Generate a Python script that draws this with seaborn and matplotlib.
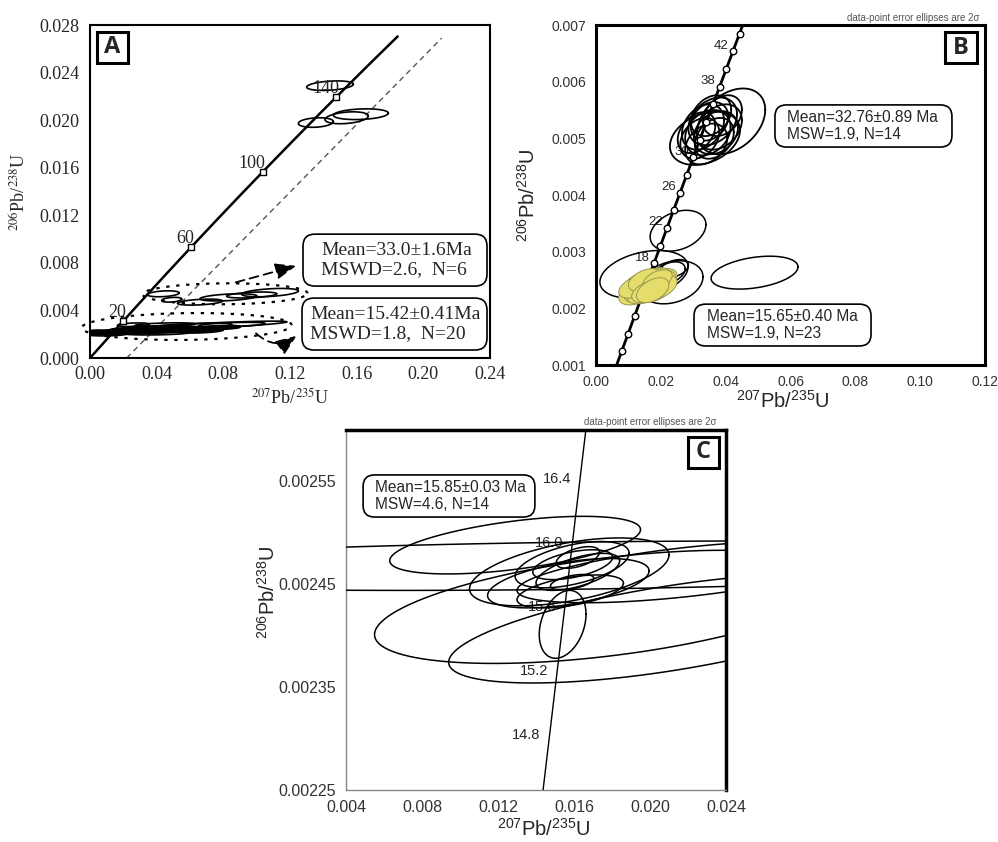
import numpy as np
import pandas as pd
from matplotlib import pyplot as plt
from matplotlib.patches import FancyBboxPatch
from matplotlib.ticker import MultipleLocator, FixedLocator, FormatStrFormatter
import seaborn as sns

# decay constants (1/yr), used for the concordia curve
LAMBDA_238 = 1.55125e-10
LAMBDA_235 = 9.8485e-10

# ---------------- panel A data ----------------
a_marker_ages = [20, 60, 100, 140]
a_curve_ages = np.linspace(0, 172, 200)
a_ref_x = [0.022, 0.211]
a_ref_y = [0.0, 0.0269]

# ellipses near 140 Ma
a_top_x = [0.144, 0.1355, 0.154, 0.1625]
a_top_y = [0.0229, 0.0198, 0.0202, 0.0205]
a_top_sx = [0.014, 0.0105, 0.013, 0.0165]
a_top_sy = [0.0004, 0.0004, 0.0005, 0.00045]
a_top_rho = [0.3, 0.2, 0.3, 0.2]

# 33.0 Ma group (N=6)
a_mid_x = [0.044, 0.049, 0.066, 0.083, 0.097, 0.108]
a_mid_y = [0.0054, 0.0049, 0.0047, 0.0051, 0.0053, 0.0055]
a_mid_sx = [0.0095, 0.006, 0.0135, 0.017, 0.015, 0.017]
a_mid_sy = [0.00025, 0.0002, 0.00025, 0.0003, 0.00025, 0.00035]
a_mid_rho = [0.3, 0.3, 0.4, 0.4, 0.4, 0.4]

# 15.42 Ma group (N=20)
a_low_x = [0.004, 0.015, 0.025, 0.035, 0.045, 0.055, 0.030, 0.050, 0.065,
           0.026, 0.066, 0.059, 0.010, 0.040, 0.070, 0.020, 0.078, 0.045, 0.002, 0.085]
a_low_y = [0.00215, 0.0022, 0.00228, 0.0023, 0.00235, 0.0024, 0.0025, 0.0025, 0.0023,
           0.0028, 0.0027, 0.00265, 0.0020, 0.0021, 0.0025, 0.0024, 0.0026, 0.0028, 0.0022, 0.0028]
a_low_sx = [0.008, 0.010, 0.012, 0.014, 0.016, 0.018, 0.010, 0.012, 0.015,
            0.0095, 0.052, 0.026, 0.012, 0.020, 0.020, 0.008, 0.012, 0.018, 0.006, 0.020]
a_low_sy = [0.0002, 0.00022, 0.00025, 0.00025, 0.00025, 0.00025, 0.0002, 0.0002, 0.0002,
            0.00015, 0.0004, 0.00028, 0.00014, 0.00016, 0.00018, 0.00014, 0.00014, 0.00016, 0.00012, 0.0002]
a_low_rho = [0.3, 0.3, 0.3, 0.3, 0.3, 0.3, 0.3, 0.3, 0.3,
             0.3, 0.85, 0.6, 0.2, 0.3, 0.5, 0.3, 0.4, 0.4, 0.2, 0.5]
a_low_filled = [1, 1, 1, 1, 1, 1, 1, 1, 1, 0, 0, 0, 0, 0, 0, 0, 0, 0, 0, 0]

# dotted group outlines
a_group_x = [0.081, 0.058]
a_group_y = [0.0054, 0.00265]
a_group_sx = [0.0495, 0.063]
a_group_sy = [0.00088, 0.00113]
a_group_rho = [0.05, 0.1]

a_text_old = "Mean=33.0\u00b11.6Ma\nMSWD=2.6,  N=6"
a_text_young = "Mean=15.42\u00b10.41Ma\nMSWD=1.8,  N=20"

# ---------------- panel B data ----------------
b_marker_ages = [8, 10, 12, 14, 16, 18, 20, 22, 24, 26, 28, 30, 32, 34, 36, 38, 40, 42, 44]
b_label_ages = [18, 22, 26, 30, 38, 42]
b_curve_ages = np.linspace(5, 47, 200)

# 32.76 Ma group (N=14)
b_old_x = [0.0417, 0.0336, 0.0360, 0.0345, 0.0330, 0.0370, 0.0355,
           0.0320, 0.0380, 0.0340, 0.0350, 0.0365, 0.0310, 0.0390]
b_old_y = [0.0053, 0.0050, 0.0053, 0.0051, 0.0052, 0.0051, 0.0054,
           0.0050, 0.0052, 0.0049, 0.0053, 0.0050, 0.0051, 0.0054]
b_old_sx = [0.0105, 0.0108, 0.0075, 0.0070, 0.0065, 0.0068, 0.0062,
            0.0060, 0.0070, 0.0065, 0.0058, 0.0060, 0.0058, 0.0060]
b_old_sy = [0.00058, 0.00047, 0.00042, 0.00040, 0.00040, 0.00038, 0.00036,
            0.00036, 0.00040, 0.00036, 0.00034, 0.00036, 0.00036, 0.00036]
b_old_rho = [0.35, 0.3, 0.3, 0.25, 0.3, 0.25, 0.3, 0.3, 0.3, 0.3, 0.25, 0.3, 0.35, 0.3]

# 15.65 Ma group (N=23), yellow
b_young_x = [0.0130, 0.0140, 0.0150, 0.0160, 0.0170, 0.0180, 0.0190, 0.0200,
             0.0165, 0.0175, 0.0155, 0.0185, 0.0195, 0.0145, 0.0170, 0.0160,
             0.0180, 0.0125, 0.0205, 0.0150, 0.0190, 0.0165, 0.0175]
b_young_y = [0.00230, 0.00235, 0.00240, 0.00245, 0.00240, 0.00245, 0.00240, 0.00250,
             0.00235, 0.00250, 0.00230, 0.00235, 0.00245, 0.00245, 0.00252, 0.00238,
             0.00242, 0.00238, 0.00238, 0.00250, 0.00250, 0.00230, 0.00232]
b_young_sx = [0.0060, 0.0055, 0.0055, 0.0060, 0.0065, 0.0060, 0.0055, 0.0050,
              0.0065, 0.0055, 0.0060, 0.0055, 0.0050, 0.0060, 0.0050, 0.0050,
              0.0050, 0.0055, 0.0045, 0.0050, 0.0045, 0.0055, 0.0050]
b_young_sy = [0.00024, 0.00024, 0.00025, 0.00024, 0.00026, 0.00024, 0.00025, 0.00020,
              0.00026, 0.00022, 0.00022, 0.00024, 0.00022, 0.00022, 0.00018, 0.00022,
              0.00022, 0.00020, 0.00020, 0.00020, 0.00018, 0.00020, 0.00022]
b_young_rho = [0.45] * 23

# other outlined analyses
b_other_x = [0.0148, 0.0233, 0.0253, 0.0489, 0.0240, 0.0225]
b_other_y = [0.00260, 0.00246, 0.00337, 0.00263, 0.00270, 0.00262]
b_other_sx = [0.0136, 0.0097, 0.0086, 0.0134, 0.0045, 0.0050]
b_other_sy = [0.00042, 0.00038, 0.00036, 0.00029, 0.00016, 0.00020]
b_other_rho = [0.32, 0.25, 0.3, 0.35, 0.4, 0.4]

b_text_old = "Mean=32.76\u00b10.89 Ma\nMSW=1.9, N=14"
b_text_young = "Mean=15.65\u00b10.40 Ma\nMSW=1.9, N=23"

# ---------------- panel C data ----------------
c_label_ages = [14.8, 15.2, 15.6, 16.0, 16.4]
c_curve_ages = np.linspace(14.2, 17.0, 100)
c_xticks = [0.004, 0.008, 0.012, 0.016, 0.020, 0.024]
c_yticks = [0.00225, 0.00235, 0.00245, 0.00255]
c_yminor = [0.0023, 0.0024, 0.0025, 0.0026]

c_x = [0.0129, 0.0178, 0.0210, 0.0160, 0.0159, 0.01575, 0.0157, 0.0158,
       0.01593, 0.0162, 0.0159, 0.0154, 0.0162, 0.0220]
c_y = [0.002488, 0.002428, 0.002407, 0.002468, 0.002469, 0.002462, 0.002451, 0.002443,
       0.002469, 0.002476, 0.002452, 0.002411, 0.002462, 0.002462]
c_sx = [0.0066, 0.0123, 0.0116, 0.030, 0.0030, 0.00525, 0.00425, 0.0028,
        0.0021, 0.00114, 0.00114, 0.00123, 0.0022, 0.0090]
c_sy = [0.000028, 0.000055, 0.000053, 0.000024, 0.0000225, 0.000033, 0.000024, 0.000016,
        0.0000145, 0.0000105, 0.0000075, 0.000033, 0.000018, 0.000030]
c_rho = [0.54, 0.49, 0.62, 0.3, 0.5, 0.5, 0.5, 0.5, 0.5, 0.5, 0.5, 0.3, 0.6, 0.6]

c_text = "Mean=15.85\u00b10.03 Ma\nMSW=4.6, N=14"
note_text = "data-point error ellipses are 2\u03c3"


def concordia(ages_ma):
    t = np.asarray(ages_ma, dtype=float) * 1e6
    return np.expm1(LAMBDA_235 * t), np.expm1(LAMBDA_238 * t)


def error_ellipse(cx, cy, sx, sy, rho, n=120):
    t = np.linspace(0, 2 * np.pi, n)
    ex = cx + sx * np.cos(t)
    ey = cy + sy * (rho * np.cos(t) + np.sqrt(1 - rho ** 2) * np.sin(t))
    return ex, ey


def draw_ellipses(ax, xs, ys, sxs, sys_, rhos, filled=None, fc="black", ec="black",
                  lw=1.0, ls="-", z=3, clip=True):
    for i in range(len(xs)):
        ex, ey = error_ellipse(xs[i], ys[i], sxs[i], sys_[i], rhos[i])
        if filled is not None and filled[i]:
            ax.fill(ex, ey, facecolor=fc, edgecolor=ec, lw=lw, zorder=z, clip_on=clip)
        else:
            ax.plot(ex, ey, color=ec, lw=lw, ls=ls, zorder=z, clip_on=clip)


def text_box(ax, x0, y0, w, h, tx, text, aspect, **kw):
    box = FancyBboxPatch((x0, y0), w, h, boxstyle="round,pad=0,rounding_size=0.03",
                         transform=ax.transAxes, facecolor="white", edgecolor="black",
                         lw=1.2, mutation_aspect=aspect, zorder=6, clip_on=False)
    ax.add_patch(box)
    ax.text(tx, y0 + h / 2, text, transform=ax.transAxes, ha="left", va="center",
            zorder=7, linespacing=1.15, **kw)


def letter_box(ax, x0, y0, w, h, letter):
    ax.add_patch(plt.Rectangle((x0, y0), w, h, transform=ax.transAxes, facecolor="white",
                               edgecolor="black", lw=2.2, zorder=6))
    ax.text(x0 + w / 2, y0 + h / 2, letter, transform=ax.transAxes, ha="center",
            va="center", fontsize=17, fontweight="bold", family="Open Sans", zorder=7)


sns.set_style("white")
plt.rcParams['font.family'] = ['Liberation Sans', 'DejaVu Sans']
plt.rcParams['mathtext.fontset'] = 'custom'
plt.rcParams['mathtext.rm'] = 'Liberation Sans'

fig = plt.figure(figsize=(9.98, 8.42), dpi=100)
axA = fig.add_axes([0.0902, 0.5748, 0.4008, 0.3955])
axB = fig.add_axes([0.5972, 0.5665, 0.3898, 0.4038])
axC = fig.add_axes([0.3467, 0.0618, 0.3808, 0.4276])

# ================= panel A =================
serif = "Liberation Serif"
cx, cy = concordia(a_curve_ages)
sns.lineplot(x=cx, y=cy, ax=axA, sort=False, estimator=None, color="black", lw=1.8, zorder=4)
axA.plot(a_ref_x, a_ref_y, color="#555555", lw=1.0, ls=(0, (4, 3)), zorder=2)

draw_ellipses(axA, a_top_x, a_top_y, a_top_sx, a_top_sy, a_top_rho, lw=1.2)
draw_ellipses(axA, a_mid_x, a_mid_y, a_mid_sx, a_mid_sy, a_mid_rho, lw=1.2)
draw_ellipses(axA, a_low_x, a_low_y, a_low_sx, a_low_sy, a_low_rho, filled=a_low_filled, lw=1.2)
draw_ellipses(axA, a_group_x, a_group_y, a_group_sx, a_group_sy, a_group_rho,
              lw=1.6, ls=(0, (1.5, 3)), clip=False)

mx, my = concordia(a_marker_ages)
sns.scatterplot(x=mx, y=my, ax=axA, marker="s", s=22, color="white", edgecolor="black",
                linewidth=1.0, zorder=5)
for age, x, y in zip(a_marker_ages, mx, my):
    axA.annotate(str(age), (x, y), xytext=(2, 0), textcoords="offset points", ha="right",
                 va="bottom", fontsize=13, family=serif, zorder=6)

axA.set_xlim(0, 0.24)
axA.set_ylim(0, 0.028)
axA.xaxis.set_major_locator(MultipleLocator(0.04))
axA.xaxis.set_minor_locator(MultipleLocator(0.02))
axA.yaxis.set_major_locator(MultipleLocator(0.004))
axA.yaxis.set_minor_locator(MultipleLocator(0.002))
axA.xaxis.set_major_formatter(FormatStrFormatter("%.2f"))
axA.yaxis.set_major_formatter(FormatStrFormatter("%.3f"))
axA.tick_params(axis="x", which="both", direction="in", length=5, width=1, pad=6)
axA.tick_params(axis="x", which="minor", length=3)
axA.tick_params(axis="y", which="both", direction="inout", length=7, width=1, pad=4)
axA.tick_params(axis="y", which="minor", length=4)
for lab in axA.get_xticklabels() + axA.get_yticklabels():
    lab.set_family(serif)
    lab.set_fontsize(13)
for sp in axA.spines.values():
    sp.set_color("black")
    sp.set_linewidth(1.5)

axA.text(0.5, -0.12, r"$^{207}$Pb/$^{235}$U", transform=axA.transAxes, ha="center",
         va="center", fontsize=13, family=serif, math_fontfamily="stix")
axA.text(-0.175, 0.5, r"$^{206}$Pb/$^{238}$U", transform=axA.transAxes, ha="center",
         va="center", rotation=90, fontsize=13, family=serif, math_fontfamily="stix")

text_box(axA, 0.5325, 0.216, 0.46, 0.156, 0.578, a_text_old, 1.2, fontsize=14, family=serif)
text_box(axA, 0.530, 0.024, 0.4625, 0.156, 0.551, a_text_young, 1.2, fontsize=14, family=serif)
letter_box(axA, 0.0175, 0.886, 0.0775, 0.093, "A")

arrow_kw = dict(arrowstyle="-|>,head_length=0.9,head_width=0.35", lw=1.3,
                linestyle=(0, (5, 3)), color="black", mutation_scale=14)
axA.annotate("", xy=(0.522, 0.279), xytext=(0.3575, 0.225), xycoords="axes fraction",
             arrowprops=dict(connectionstyle="arc3,rad=0", **arrow_kw))
axA.annotate("", xy=(0.522, 0.072), xytext=(0.41, 0.080), xycoords="axes fraction",
             arrowprops=dict(connectionstyle="arc3,rad=0.45", **arrow_kw))

# ================= panel B =================
cx, cy = concordia(b_curve_ages)
sns.lineplot(x=cx, y=cy, ax=axB, sort=False, estimator=None, color="black", lw=2.0, zorder=4)

draw_ellipses(axB, b_other_x, b_other_y, b_other_sx, b_other_sy, b_other_rho, lw=1.1, z=3)
draw_ellipses(axB, b_old_x, b_old_y, b_old_sx, b_old_sy, b_old_rho, lw=1.3, z=3)

mx, my = concordia(b_marker_ages)
sns.scatterplot(x=mx, y=my, ax=axB, marker="o", s=22, color="white", edgecolor="black",
                linewidth=1.0, zorder=4.2)
draw_ellipses(axB, b_young_x, b_young_y, b_young_sx, b_young_sy, b_young_rho,
              filled=[1] * len(b_young_x), fc="#e4dd69", ec="#8f8a52", lw=0.6, z=4.5)

lx, ly = concordia(b_label_ages)
for age, x, y in zip(b_label_ages, lx, ly):
    axB.annotate(str(age), (x, y), xytext=(-3, 4), textcoords="offset points", ha="right",
                 va="center", fontsize=9.5, zorder=2)

axB.set_xlim(0, 0.12)
axB.set_ylim(0.001, 0.007)
axB.xaxis.set_major_locator(MultipleLocator(0.02))
axB.xaxis.set_minor_locator(MultipleLocator(0.01))
axB.yaxis.set_major_locator(MultipleLocator(0.001))
axB.yaxis.set_minor_locator(MultipleLocator(0.0005))
axB.xaxis.set_major_formatter(FormatStrFormatter("%.2f"))
axB.yaxis.set_major_formatter(FormatStrFormatter("%.3f"))
axB.tick_params(which="both", direction="in", length=3, width=1.5, color="#999999",
                labelsize=10, labelcolor="#333333", pad=7)
for sp in axB.spines.values():
    sp.set_color("black")
    sp.set_linewidth(2.2)

axB.text(0.48, -0.105, r"$^{207}$Pb/$^{235}$U", transform=axB.transAxes, ha="center",
         va="center", fontsize=14.5)
axB.text(-0.175, 0.5, r"$^{206}$Pb/$^{238}$U", transform=axB.transAxes, ha="center",
         va="center", rotation=90, fontsize=14.5)
axB.text(0.987, 1.02, note_text, transform=axB.transAxes, ha="right", va="center",
         fontsize=7, color="#555555")

text_box(axB, 0.46, 0.641, 0.455, 0.124, 0.491, b_text_old, 1.15, fontsize=11.2)
text_box(axB, 0.252, 0.056, 0.455, 0.123, 0.285, b_text_young, 1.15, fontsize=11.2)
letter_box(axB, 0.897, 0.888, 0.082, 0.091, "B")

# ================= panel C =================
cx, cy = concordia(c_curve_ages)
sns.lineplot(x=cx, y=cy, ax=axC, sort=False, estimator=None, color="black", lw=1.0, zorder=4)
draw_ellipses(axC, c_x, c_y, c_sx, c_sy, c_rho, lw=1.1, z=3)

lx, ly = concordia(c_label_ages)
for age, x, y in zip(c_label_ages, lx, ly):
    axC.annotate(f"{age:.1f}", (x, y), xytext=(-6, 4), textcoords="offset points",
                 ha="right", va="center", fontsize=10.5, zorder=2)

axC.set_xlim(0.004, 0.024)
axC.set_ylim(0.00225, 0.0026)
axC.xaxis.set_major_locator(FixedLocator(c_xticks))
axC.xaxis.set_minor_locator(MultipleLocator(0.002))
axC.yaxis.set_major_locator(FixedLocator(c_yticks))
axC.yaxis.set_minor_locator(FixedLocator(c_yminor))
axC.xaxis.set_major_formatter(FormatStrFormatter("%.3f"))
axC.yaxis.set_major_formatter(FormatStrFormatter("%.5f"))
axC.tick_params(which="both", direction="in", length=4, width=1.2, color="#999999",
                labelsize=11.5, labelcolor="#333333", pad=7)
axC.spines["left"].set_color("#888888")
axC.spines["bottom"].set_color("#888888")
axC.spines["left"].set_linewidth(1.0)
axC.spines["bottom"].set_linewidth(1.0)
axC.spines["top"].set_color("black")
axC.spines["right"].set_color("black")
axC.spines["top"].set_linewidth(2.5)
axC.spines["right"].set_linewidth(2.5)

axC.text(0.52, -0.108, r"$^{207}$Pb/$^{235}$U", transform=axC.transAxes, ha="center",
         va="center", fontsize=14.5)
axC.text(-0.205, 0.55, r"$^{206}$Pb/$^{238}$U", transform=axC.transAxes, ha="center",
         va="center", rotation=90, fontsize=14.5)
axC.text(0.976, 1.022, note_text, transform=axC.transAxes, ha="right", va="center",
         fontsize=7, color="#555555")

text_box(axC, 0.045, 0.758, 0.452, 0.117, 0.076, c_text, 1.05, fontsize=11.2)
letter_box(axC, 0.90, 0.894, 0.082, 0.087, "C")

fig.savefig("out.png", dpi=100)
